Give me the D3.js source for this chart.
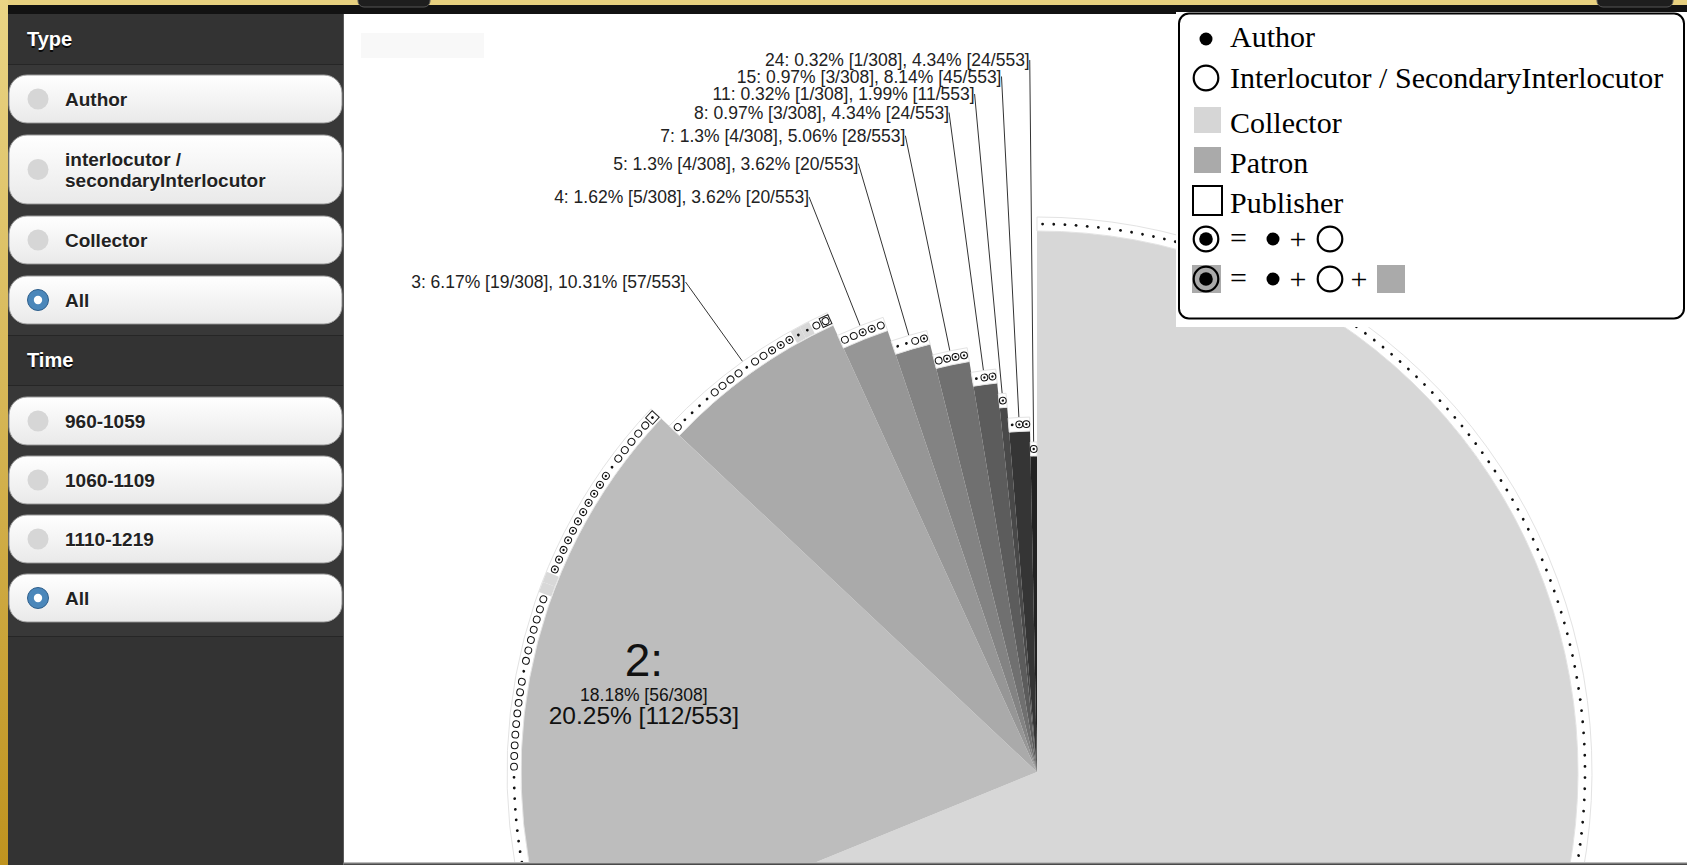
<!DOCTYPE html>
<html>
<head>
<meta charset="utf-8">
<script src="https://cdn.jsdelivr.net/npm/d3@7"></script>
<style>
  body { margin: 0; background: #1b1b1b; overflow: hidden; }
  svg { display: block; }
</style>
</head>
<body>
<svg id="chart" width="1687" height="865"></svg>
<script>
// ---- data ----
const categories = [1, 2, 3, 4, 5, 7, 8, 11, 15, 24];
const persons    = [212, 56, 19, 5, 4, 4, 3, 1, 3, 1];        // of 308
const relations  = [212, 112, 57, 20, 20, 28, 24, 11, 45, 24]; // of 553
const totalPersons = 308;
const totalRelations = 553;

// one marker per person, run-length coded, in clockwise order
// a = author, i = interlocutor, x = author + interlocutor,
// c = collector only, A = author + collector,
// P = publisher + author, Q = publisher + interlocutor
const markerRuns = [
  "212a",
  "19a 9i 1a 7i 2c 11x 1a 5i 1P",
  "1i 4a 4i 1a 2i 3x 2A 1i 1Q",
  "2i 2x 1i",
  "2a 1i 1x",
  "1i 3x",
  "1a 2x",
  "1x",
  "1a 2x",
  "1x"
];

const typeOptions = ["Author", "interlocutor /|secondaryInterlocutor", "Collector", "All"];
const timeOptions = ["960-1059", "1060-1109", "1110-1219", "All"];
const legendLabels = ["Author", "Interlocutor / SecondaryInterlocutor", "Collector", "Patron", "Publisher"];

// ---- page frame ----
const svg = d3.select("#chart");
const defs = svg.append("defs");

const gold = defs.append("linearGradient").attr("id", "gold")
  .attr("x1", 0).attr("y1", 0).attr("x2", 0).attr("y2", 1);
gold.append("stop").attr("offset", "0%").attr("stop-color", "#ead585");
gold.append("stop").attr("offset", "100%").attr("stop-color", "#bf931f");

const btn = defs.append("linearGradient").attr("id", "btn")
  .attr("x1", 0).attr("y1", 0).attr("x2", 0).attr("y2", 1);
btn.append("stop").attr("offset", "0%").attr("stop-color", "#ffffff");
btn.append("stop").attr("offset", "100%").attr("stop-color", "#e9e9e9");

defs.append("clipPath").attr("id", "plotClip")
  .append("rect").attr("x", 344).attr("y", 15).attr("width", 1343).attr("height", 847);

svg.append("rect").attr("width", 1687).attr("height", 865).attr("fill", "#1b1b1b");
svg.append("rect").attr("x", 0).attr("y", 0).attr("width", 1687).attr("height", 5).attr("fill", "#e7d07f");
svg.append("rect").attr("x", 0).attr("y", 0).attr("width", 8).attr("height", 865).attr("fill", "url(#gold)");
svg.append("rect").attr("x", 8).attr("y", 5).attr("width", 1679).attr("height", 9).attr("fill", "#121212");
[[358, 72], [1597, 76]].forEach(([x, w]) => {
  svg.append("rect").attr("x", x).attr("y", -12).attr("width", w).attr("height", 19)
    .attr("rx", 6).attr("fill", "#1e1e1e").attr("stroke", "#555");
});

// ---- sidebar ----
const side = svg.append("g");
side.append("rect").attr("x", 8).attr("y", 14).attr("width", 335).attr("height", 851).attr("fill", "#333");

const sections = [
  { title: "Type", titleY: 46, top: 65, bottom: 335, first: 75, gap: 12, items: typeOptions, selected: 3 },
  { title: "Time", titleY: 367, top: 386, bottom: 636, first: 397, gap: 11, items: timeOptions, selected: 3 }
];

sections.forEach(sec => {
  side.append("rect").attr("x", 8).attr("y", sec.top).attr("width", 335)
    .attr("height", sec.bottom - sec.top).attr("fill", "#383838");
  side.append("line").attr("x1", 8).attr("x2", 343).attr("y1", sec.top - 0.5).attr("y2", sec.top - 0.5)
    .attr("stroke", "#262626");
  side.append("line").attr("x1", 8).attr("x2", 343).attr("y1", sec.bottom + 0.5).attr("y2", sec.bottom + 0.5)
    .attr("stroke", "#262626");

  side.append("text").text(sec.title).attr("x", 27).attr("y", sec.titleY + 1.5)
    .style("font-family", "'Liberation Sans', Arial, sans-serif").style("font-weight", "bold")
    .style("font-size", "20px").style("fill", "#000").style("opacity", 0.8);
  side.append("text").text(sec.title).attr("x", 27).attr("y", sec.titleY)
    .style("font-family", "'Liberation Sans', Arial, sans-serif").style("font-weight", "bold")
    .style("font-size", "20px").style("fill", "#fff");

  let y = sec.first;
  sec.items.forEach((label, i) => {
    const lines = label.split("|");
    const h = lines.length > 1 ? 69 : 48;
    const cy = y + h / 2;
    const b = side.append("g");
    b.append("rect").attr("x", 9).attr("y", y + 1).attr("width", 333).attr("height", h)
      .attr("rx", 18).attr("fill", "#1f1f1f").attr("opacity", 0.6);
    b.append("rect").attr("x", 9).attr("y", y).attr("width", 333).attr("height", h)
      .attr("rx", 18).attr("fill", "url(#btn)").attr("stroke", "#9a9a9a").attr("stroke-width", 1);
    if (i === sec.selected) {
      b.append("circle").attr("cx", 38).attr("cy", cy).attr("r", 10.5)
        .attr("fill", "#4b87ba").attr("stroke", "#2e5f8c").attr("stroke-width", 1);
      b.append("circle").attr("cx", 38).attr("cy", cy).attr("r", 4.2).attr("fill", "#fff");
    } else {
      b.append("circle").attr("cx", 38).attr("cy", cy).attr("r", 10.5).attr("fill", "#d6d6d6");
    }
    lines.forEach((ln, j) => {
      const by = lines.length > 1 ? cy - 3.5 + j * 21 : cy + 7;
      b.append("text").text(ln).attr("x", 65).attr("y", by + 1)
        .style("font-family", "'Liberation Sans', Arial, sans-serif").style("font-weight", "bold")
        .style("font-size", "19px").style("fill", "#fff");
      b.append("text").text(ln).attr("x", 65).attr("y", by)
        .style("font-family", "'Liberation Sans', Arial, sans-serif").style("font-weight", "bold")
        .style("font-size", "19px").style("fill", "#222");
    });
    y += h + sec.gap;
  });
});

// ---- plot area ----
svg.append("rect").attr("x", 343).attr("y", 14).attr("width", 1344).attr("height", 849).attr("fill", "#fff");
svg.append("line").attr("x1", 343.5).attr("x2", 343.5).attr("y1", 14).attr("y2", 865).attr("stroke", "#5a5a5a");
svg.append("line").attr("x1", 343).attr("x2", 1687).attr("y1", 863.5).attr("y2", 863.5)
  .attr("stroke", "#7a7a7a").attr("stroke-width", 2);
svg.append("rect").attr("x", 361).attr("y", 33).attr("width", 123).attr("height", 25).attr("fill", "#f8f8f8");

const cx = 1037, cy = 772;
const plot = svg.append("g").attr("clip-path", "url(#plotClip)")
  .append("g").attr("transform", `translate(${cx},${cy})`);

const data = categories.map((c, i) => ({
  cat: c, persons: persons[i], relations: relations[i], runs: markerRuns[i]
}));

const pie = d3.pie().value(d => d.persons).sort(null);
const arcs = pie(data);
const last = categories.length - 1;

const rScale = d3.scaleLinear().domain([0, last]).range([541, 316]);
const fillScale = d3.scaleLinear().domain([0, 1, last]).range(["#d7d7d7", "#bdbdbd", "#222222"]);
const labelR = d3.scaleLinear().domain([2, last]).range([603, 712]);
const band = 14;

const pct = (v, t) => Math.round(v / t * 10000) / 100;
const polar = (r, a) => [r * Math.sin(a), -r * Math.cos(a)];

// slices
plot.selectAll("path.slice")
  .data(arcs)
  .join("path")
  .attr("class", "slice")
  .attr("d", d => d3.arc().innerRadius(0).outerRadius(rScale(d.index))(d))
  .attr("fill", d => fillScale(d.index));

// leader lines for the small slices (drawn before the bands so the band hides the end)
const small = arcs.filter(d => d.index >= 2);
plot.selectAll("line.leader")
  .data(small)
  .join("line")
  .attr("class", "leader")
  .each(function (d) {
    const mid = (d.startAngle + d.endAngle) / 2;
    const p1 = polar(labelR(d.index), mid);
    const p2 = polar(rScale(d.index) + 7, mid);
    d3.select(this).attr("x1", p1[0]).attr("y1", p1[1]).attr("x2", p2[0]).attr("y2", p2[1]);
  })
  .attr("stroke", "#333")
  .attr("stroke-width", 1);

// marker bands
plot.selectAll("path.band")
  .data(arcs)
  .join("path")
  .attr("class", "band")
  .attr("d", d => d3.arc().innerRadius(rScale(d.index)).outerRadius(rScale(d.index) + band)(d))
  .attr("fill", "#fff")
  .attr("stroke", "#e3e3e3")
  .attr("stroke-width", 1);

// expand runs into one entry per person
const markers = [];
arcs.forEach(d => {
  const types = [];
  d.data.runs.split(" ").forEach(tok => {
    const m = tok.match(/^(\d+)(\w)$/);
    for (let k = 0; k < +m[1]; k++) types.push(m[2]);
  });
  const step = (d.endAngle - d.startAngle) / types.length;
  types.forEach((t, k) => {
    markers.push({
      type: t, r: rScale(d.index),
      a0: d.startAngle + k * step, a1: d.startAngle + (k + 1) * step,
      a: d.startAngle + (k + 0.5) * step
    });
  });
});

// collector cells
plot.selectAll("path.cell")
  .data(markers.filter(m => m.type === "c" || m.type === "A"))
  .join("path")
  .attr("class", "cell")
  .attr("d", m => d3.arc().innerRadius(m.r + 0.5).outerRadius(m.r + band - 0.5)
    .startAngle(m.a0).endAngle(m.a1)())
  .attr("fill", "#d8d8d8");

const mg = plot.selectAll("g.marker")
  .data(markers.filter(m => m.type !== "c"))
  .join("g")
  .attr("class", "marker")
  .attr("transform", m => {
    const p = polar(m.r + 7, m.a);
    return `translate(${p[0]},${p[1]}) rotate(${m.a * 180 / Math.PI})`;
  });

mg.filter(m => m.type === "P" || m.type === "Q")
  .append("rect").attr("x", -4.8).attr("y", -4.8).attr("width", 9.6).attr("height", 9.6)
  .attr("fill", "#fff").attr("stroke", "#222").attr("stroke-width", 1);
mg.filter(m => "ixQ".includes(m.type))
  .append("circle").attr("r", 3.4).attr("fill", "#fff").attr("stroke", "#111").attr("stroke-width", 1);
mg.filter(m => "aAP".includes(m.type))
  .append("circle").attr("r", 1.4).attr("fill", "#111");
mg.filter(m => m.type === "x")
  .append("circle").attr("r", 1.2).attr("fill", "#111");

// labels of the small slices
plot.selectAll("text.small")
  .data(small)
  .join("text")
  .attr("class", "small")
  .attr("transform", d => {
    const p = polar(labelR(d.index), (d.startAngle + d.endAngle) / 2);
    return `translate(${p[0]},${p[1]})`;
  })
  .attr("dy", "0.35em")
  .attr("text-anchor", "end")
  .text(d => `${d.data.cat}: ${pct(d.data.persons, totalPersons)}% [${d.data.persons}/${totalPersons}], ` +
             `${pct(d.data.relations, totalRelations)}% [${d.data.relations}/${totalRelations}]`)
  .style("font-family", "'Liberation Sans', Arial, sans-serif")
  .style("font-size", "17.5px")
  .style("fill", "#222");

// big label inside the second slice (the one for the largest slice lies outside the view)
const big = plot.selectAll("g.big")
  .data(arcs.filter(d => d.index === 1))
  .join("g")
  .attr("class", "big")
  .attr("transform", d => {
    const p = polar(rScale(d.index) * 0.775, (d.startAngle + d.endAngle) / 2);
    return `translate(${p[0]},${p[1]})`;
  })
  .style("font-family", "'Liberation Sans', Arial, sans-serif")
  .attr("text-anchor", "middle")
  .style("fill", "#111");
big.append("text").attr("y", -23).style("font-size", "46px").text(d => `${d.data.cat}:`);
big.append("text").attr("y", 2).style("font-size", "17.5px")
  .text(d => `${pct(d.data.persons, totalPersons)}% [${d.data.persons}/${totalPersons}]`);
big.append("text").attr("y", 25).style("font-size", "24.5px")
  .text(d => `${pct(d.data.relations, totalRelations)}% [${d.data.relations}/${totalRelations}]`);

// ---- legend ----
const lg = svg.append("g").style("font-family", "'Liberation Serif', 'Times New Roman', serif");
lg.append("rect").attr("x", 1176).attr("y", 12).attr("width", 511).attr("height", 315).attr("fill", "#fff");
lg.append("rect").attr("x", 1179).attr("y", 13.5).attr("width", 505).attr("height", 305)
  .attr("rx", 10).attr("fill", "#fff").attr("stroke", "#000").attr("stroke-width", 2);

const symX = 1206, textX = 1230;
const rowBase = [47, 88, 133, 173, 213];
legendLabels.forEach((t, i) => {
  lg.append("text").attr("x", textX).attr("y", rowBase[i]).text(t)
    .style("font-size", "30px").style("fill", "#000");
});
lg.append("circle").attr("cx", symX).attr("cy", 39).attr("r", 6.5).attr("fill", "#000");
lg.append("circle").attr("cx", symX).attr("cy", 78).attr("r", 12.3).attr("fill", "#fff")
  .attr("stroke", "#000").attr("stroke-width", 2.2);
lg.append("rect").attr("x", 1194).attr("y", 107).attr("width", 27).attr("height", 26).attr("fill", "#d6d6d6");
lg.append("rect").attr("x", 1194).attr("y", 147).attr("width", 27).attr("height", 26).attr("fill", "#aaaaaa");
lg.append("rect").attr("x", 1193).attr("y", 186).attr("width", 29).attr("height", 29)
  .attr("fill", "#fff").attr("stroke", "#000").attr("stroke-width", 2);

[239, 279].forEach((y, row) => {
  if (row === 1) {
    lg.append("rect").attr("x", 1192).attr("y", y - 14).attr("width", 29).attr("height", 28).attr("fill", "#aaaaaa");
  }
  lg.append("circle").attr("cx", symX).attr("cy", y).attr("r", 12.3).attr("fill", "none")
    .attr("stroke", "#000").attr("stroke-width", 2.2);
  lg.append("circle").attr("cx", symX).attr("cy", y).attr("r", 6.8).attr("fill", "#000");
  lg.append("text").attr("x", textX).attr("y", y + 9).text("=").style("font-size", "30px");
  lg.append("circle").attr("cx", 1273).attr("cy", y).attr("r", 6.5).attr("fill", "#000");
  lg.append("text").attr("x", 1298).attr("y", y + 10).attr("text-anchor", "middle").text("+").style("font-size", "30px");
  lg.append("circle").attr("cx", 1330).attr("cy", y).attr("r", 12.3).attr("fill", "#fff")
    .attr("stroke", "#000").attr("stroke-width", 2.2);
  if (row === 1) {
    lg.append("text").attr("x", 1359).attr("y", y + 10).attr("text-anchor", "middle").text("+").style("font-size", "30px");
    lg.append("rect").attr("x", 1377).attr("y", y - 14).attr("width", 28).attr("height", 28).attr("fill", "#aaaaaa");
  }
});
</script>
</body>
</html>
